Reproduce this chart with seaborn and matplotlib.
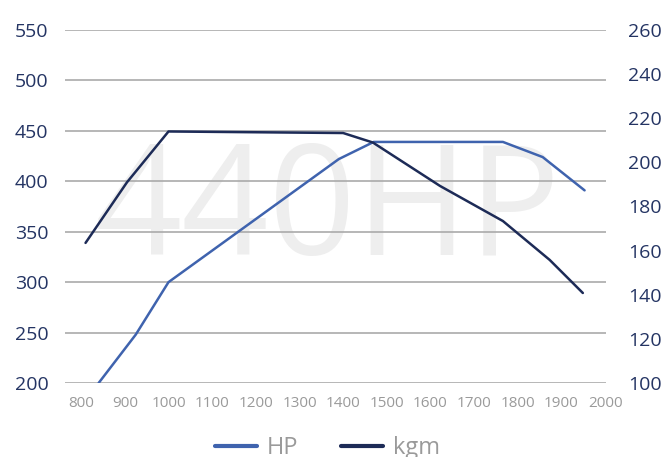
import matplotlib
matplotlib.use("Agg")
import matplotlib.pyplot as plt
import seaborn as sns
import pandas as pd

# values
hp_rpm = [840, 925, 1000, 1390, 1470, 1766, 1857, 1953]
hp_val = [200, 248, 300, 422, 439, 439, 424, 391]
kgm_rpm = [810, 905, 1000, 1400, 1468, 1622, 1766, 1873, 1949]
kgm_val = [163.5, 191, 214, 213.3, 209, 189.3, 173.4, 155.8, 140.8]

x_ticks = list(range(800, 2001, 100))
left_ticks = list(range(200, 551, 50))
right_ticks = list(range(100, 261, 20))

HP_COLOR = "#3f63ae"
KGM_COLOR = "#1d2b57"
LABEL_COLOR = "#243463"
GRAY = "#9a9a9a"

sns.set_theme(style="white")
plt.rcParams["font.family"] = ["Open Sans", "DejaVu Sans"]

fig = plt.figure(figsize=(6.69, 4.57), dpi=100)
ax = fig.add_axes([0.0972, 0.1619, 0.8086, 0.7725])
ax2 = ax.twinx()

hp_df = pd.DataFrame({"rpm": hp_rpm, "HP": hp_val})
kgm_df = pd.DataFrame({"rpm": kgm_rpm, "kgm": kgm_val})

# watermark
ax.text(0.485, 0.363, "440HP", transform=ax.transAxes, ha="center", va="baseline",
        fontsize=110, color="#eeeeee", zorder=0)

sns.lineplot(data=hp_df, x="rpm", y="HP", ax=ax, color=HP_COLOR, linewidth=1.8,
             label="HP", legend=False, zorder=3)
sns.lineplot(data=kgm_df, x="rpm", y="kgm", ax=ax2, color=KGM_COLOR, linewidth=1.8,
             label="kgm", legend=False, zorder=3)

ax.set_xlim(763, 2002)
ax.set_ylim(200, 550)
ax2.set_ylim(100, 260)
ax.set_xticks(x_ticks)
ax.set_yticks(left_ticks)
ax2.set_yticks(right_ticks)

ax.grid(axis="y", color="#aaaaaa", linewidth=1.2)
ax.grid(axis="x", visible=False)
ax2.grid(False)
for a in (ax, ax2):
    for s in a.spines.values():
        s.set_visible(False)
    a.set_xlabel("")
    a.set_ylabel("")

ax.tick_params(axis="y", length=0, pad=12, labelsize=14, labelcolor=LABEL_COLOR)
ax2.tick_params(axis="y", length=0, pad=16, labelsize=14, labelcolor=LABEL_COLOR)
ax.tick_params(axis="x", length=0, pad=9, labelsize=11, labelcolor=GRAY)

handles = ax.get_lines()[:1] + ax2.get_lines()[:1]
leg = fig.legend(handles, ["HP", "kgm"], loc="center", bbox_to_anchor=(0.489, 0.02),
                 ncol=2, frameon=False, fontsize=17, handlelength=1.8,
                 handletextpad=0.4, columnspacing=1.8)
for t in leg.get_texts():
    t.set_color(GRAY)
for h in leg.legend_handles:
    h.set_linewidth(3)

fig.savefig("out.png", dpi=100)
